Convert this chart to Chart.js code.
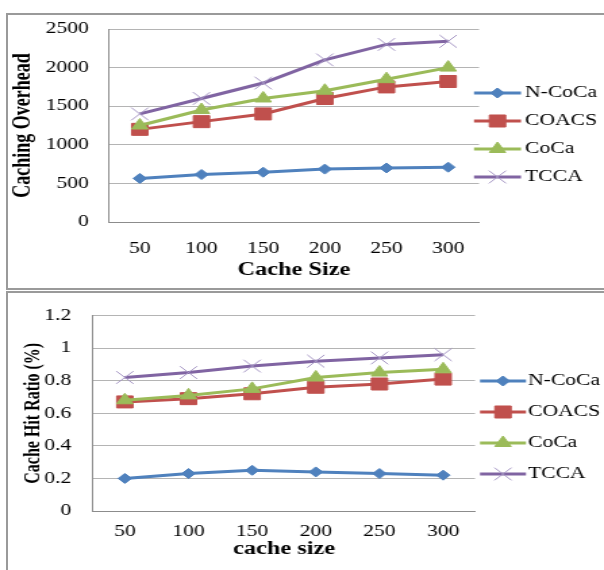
<!DOCTYPE html>
<html>
<head>
<meta charset="utf-8">
<script src="https://cdn.jsdelivr.net/npm/chart.js"></script>
<style>
    html, body { margin: 0; padding: 0; background: #fff; }
    body { position: relative; width: 604px; height: 570px; overflow: hidden; }
    .frame { position: absolute; left: 6px; width: 700px; border: 2px solid #9a9a9a; box-sizing: border-box; }
    canvas { position: absolute; left: 0; }
</style>
</head>
<body>
<div class="frame" style="top:13px;height:277px"></div>
<div class="frame" style="top:291px;height:300px"></div>
<canvas id="overheadChart" width="447" height="290" style="top:0;width:604px;height:290px"></canvas>
<canvas id="hitChart" width="447" height="280" style="top:290px;width:604px;height:280px"></canvas>
<script>
// data
const cacheSizes = ['50', '100', '150', '200', '250', '300'];
const seriesNames = ['N-CoCa', 'COACS', 'CoCa', 'TCCA'];

const overheadNCoCa = [565, 615, 645, 685, 700, 710];
const overheadCOACS = [1200, 1300, 1400, 1600, 1750, 1820];
const overheadCoCa = [1250, 1450, 1600, 1700, 1850, 2000];
const overheadTCCA = [1400, 1600, 1800, 2100, 2300, 2340];
const overheadTicks = [0, 500, 1000, 1500, 2000, 2500];

const hitNCoCa = [0.20, 0.23, 0.25, 0.24, 0.23, 0.22];
const hitCOACS = [0.67, 0.69, 0.72, 0.76, 0.78, 0.81];
const hitCoCa = [0.68, 0.71, 0.75, 0.82, 0.85, 0.87];
const hitTCCA = [0.82, 0.85, 0.89, 0.92, 0.94, 0.96];
const hitTicks = [0, 0.2, 0.4, 0.6, 0.8, 1, 1.2];

// the original picture is stretched sideways, so the canvas is too
const SX = 604 / 447;

const seriesStyles = [
    { color: '#4F81BD', point: 'rectRot', radius: 5, pointColor: '#4F81BD' },
    { color: '#C0504D', point: 'rect', radius: 8.5, pointColor: '#C0504D' },
    { color: '#9BBB59', point: 'triangle', radius: 7, pointColor: '#9BBB59' },
    { color: '#8064A2', point: 'crossRot', radius: 9, pointColor: '#a596c4' }
];

const serif = '"Liberation Serif", "Times New Roman", serif';

function buildDatasets(valueLists) {
    return valueLists.map((values, i) => {
        const s = seriesStyles[i];
        return {
            label: seriesNames[i],
            data: values,
            borderColor: s.color,
            backgroundColor: s.color,
            borderWidth: 3,
            pointStyle: s.point,
            pointRadius: s.radius,
            pointHoverRadius: s.radius,
            pointBackgroundColor: s.pointColor,
            pointBorderColor: s.pointColor,
            pointBorderWidth: 1,
            tension: 0,
            order: valueLists.length - i
        };
    });
}

// legend with a line and marker sample, like the spreadsheet one
const lineLegend = {
    id: 'lineLegend',
    afterDraw(chart, args, opts) {
        const ctx = chart.ctx;
        ctx.save();
        chart.data.datasets.forEach((ds, i) => {
            const y = opts.rows[i];
            ctx.strokeStyle = ds.borderColor;
            ctx.lineWidth = 3;
            ctx.beginPath();
            ctx.moveTo(opts.x0 / SX, y);
            ctx.lineTo(opts.x1 / SX, y);
            ctx.stroke();

            ctx.fillStyle = ds.pointBackgroundColor;
            ctx.strokeStyle = ds.pointBorderColor;
            ctx.lineWidth = ds.pointBorderWidth;
            Chart.helpers.drawPoint(ctx, {
                pointStyle: ds.pointStyle,
                radius: ds.pointRadius,
                borderWidth: ds.pointBorderWidth,
                rotation: 0
            }, (opts.x0 + opts.x1) / 2 / SX, y);

            ctx.fillStyle = '#000';
            ctx.font = '16px ' + serif;
            ctx.textBaseline = 'middle';
            ctx.textAlign = 'left';
            ctx.fillText(ds.label, opts.textX / SX, y);
        });
        ctx.restore();
    }
};

function makeChart(id, cfg) {
    const ticks = cfg.ticks;
    return new Chart(document.getElementById(id), {
        type: 'line',
        data: { labels: cacheSizes, datasets: buildDatasets(cfg.series) },
        options: {
            responsive: false,
            animation: false,
            events: [],
            layout: { padding: { left: 0, top: cfg.top, right: 447 - cfg.right / SX, bottom: 0 } },
            plugins: {
                legend: { display: false },
                tooltip: { enabled: false },
                lineLegend: cfg.legend
            },
            scales: {
                x: {
                    offset: true,
                    grid: { display: false, drawTicks: false },
                    border: { display: true, color: '#8c8c8c', width: 1 },
                    ticks: { color: '#000', padding: cfg.xTickPad, font: { family: serif, size: 16 } },
                    title: {
                        display: true,
                        text: cfg.xTitle,
                        color: '#000',
                        font: { family: serif, size: 18, weight: 'bold' },
                        padding: { top: 0, bottom: cfg.xTitlePad }
                    },
                    afterFit(scale) { scale.height = cfg.xHeight; }
                },
                y: {
                    min: ticks[0],
                    max: ticks[ticks.length - 1],
                    grid: { color: '#b4b4b4', lineWidth: 1, drawTicks: false },
                    border: { display: true, color: '#8c8c8c', width: 1 },
                    ticks: {
                        stepSize: ticks[1] - ticks[0],
                        color: '#000',
                        padding: cfg.yTickPad,
                        font: { family: serif, size: 16 },
                        callback: v => String(+v.toFixed(1))
                    },
                    title: {
                        display: true,
                        text: cfg.yTitle,
                        color: '#000',
                        font: { family: serif, size: cfg.yTitleSize, weight: 'bold' },
                        padding: { top: cfg.yTitlePad, bottom: 0 }
                    },
                    afterFit(scale) { scale.width = cfg.left / SX; }
                }
            }
        },
        plugins: [lineLegend]
    });
}

makeChart('overheadChart', {
    series: [overheadNCoCa, overheadCOACS, overheadCoCa, overheadTCCA],
    ticks: overheadTicks,
    left: 109, right: 479, top: 29, xHeight: 68,
    xTickPad: 17, xTitlePad: 9, yTickPad: 15, yTitlePad: 7, yTitleSize: 18,
    xTitle: 'Cache Size',
    yTitle: 'Caching Overhead',
    legend: { x0: 474, x1: 521, textX: 525, rows: [93, 121, 149, 177] }
});

makeChart('hitChart', {
    series: [hitNCoCa, hitCOACS, hitCoCa, hitTCCA],
    ticks: hitTicks,
    left: 93, right: 475, top: 22, xHeight: 59,
    xTickPad: 11, xTitlePad: 10, yTickPad: 16, yTitlePad: 15, yTitleSize: 16,
    xTitle: 'cache size',
    yTitle: 'Cache Hit Ratio (%)',
    legend: { x0: 480, x1: 526, textX: 528, rows: [91, 122, 153, 184] }
});
</script>
</body>
</html>
